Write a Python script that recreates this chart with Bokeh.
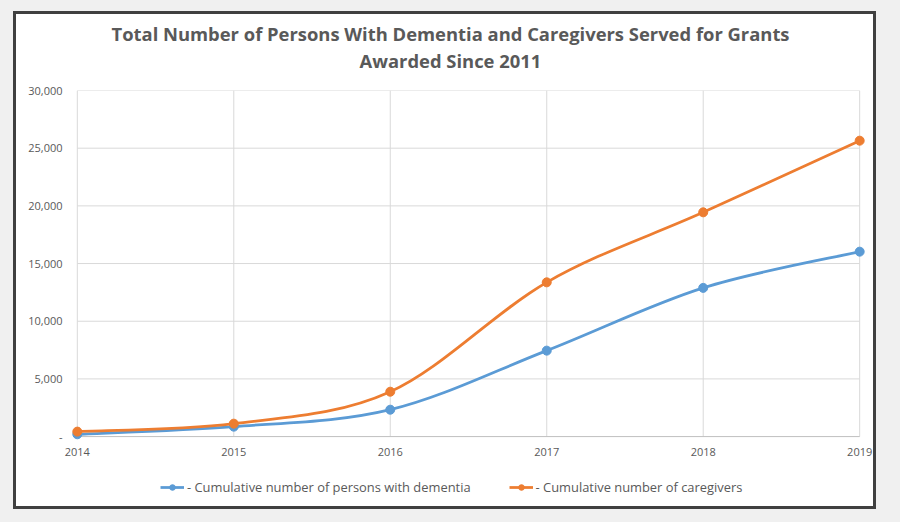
from bokeh.plotting import figure
from bokeh.layouts import column
from bokeh.models import (Range1d, FixedTicker, NumeralTickFormatter,
                          Legend, LegendItem, Title)
from bokeh.embed import file_html
from bokeh.resources import INLINE

years = [2014, 2015, 2016, 2017, 2018, 2019]
dementia = [200, 860, 2330, 7450, 12890, 16030]
caregivers = [430, 1120, 3890, 13370, 19440, 25650]
y_ticks = [0, 5000, 10000, 15000, 20000, 25000, 30000]
title_lines = ["Total Number of Persons With Dementia and Caregivers Served for Grants",
               "Awarded Since 2011"]
series_names = ["- Cumulative number of persons with dementia",
                "- Cumulative number of caregivers"]

BLUE = "#5b9bd5"
ORANGE = "#ed7d31"
GRID = "#d9d9d9"
TXT = "#595959"
FONT = "Open Sans"

W = 857
p = figure(width=W, height=452, output_backend="svg", toolbar_location=None,
           x_range=Range1d(2013.95, 2019.05), y_range=Range1d(-600, 30000),
           min_border_left=53, min_border_right=6, min_border_top=76, min_border_bottom=23)
p.border_fill_color = "white"
p.background_fill_color = "white"
p.outline_line_color = None
p.xgrid.visible = False
p.ygrid.visible = False

# gridlines drawn from tick values
p.segment(x0=[years[0]] * (len(y_ticks) - 1), y0=y_ticks[1:],
          x1=[years[-1]] * (len(y_ticks) - 1), y1=y_ticks[1:], line_color=GRID, line_width=1)
p.segment(x0=years, y0=[0] * len(years), x1=years, y1=[y_ticks[-1]] * len(years),
          line_color=GRID, line_width=1)
p.segment(x0=[years[0]], y0=[0], x1=[years[-1]], y1=[0], line_color="#bfbfbf", line_width=1)


def smooth_segments(xs, ys):
    n = len(xs)
    out = dict(x0=[], y0=[], x1=[], y1=[], cx0=[], cy0=[], cx1=[], cy1=[])
    for i in range(n - 1):
        xm, ym = (xs[i - 1], ys[i - 1]) if i > 0 else (xs[i], ys[i])
        xp, yp = (xs[i + 2], ys[i + 2]) if i + 2 < n else (xs[i + 1], ys[i + 1])
        out["x0"].append(xs[i]); out["y0"].append(ys[i])
        out["x1"].append(xs[i + 1]); out["y1"].append(ys[i + 1])
        out["cx0"].append(xs[i] + (xs[i + 1] - xm) / 6.0)
        out["cy0"].append(ys[i] + (ys[i + 1] - ym) / 6.0)
        out["cx1"].append(xs[i + 1] - (xp - xs[i]) / 6.0)
        out["cy1"].append(ys[i + 1] - (yp - ys[i]) / 6.0)
    return out


for vals, col in [(dementia, BLUE), (caregivers, ORANGE)]:
    p.bezier(line_color=col, line_width=2.75, **smooth_segments(years, vals))
    p.scatter(years, vals, size=9, fill_color=col, line_color=col)

# axes
p.xaxis.ticker = FixedTicker(ticks=years)
p.yaxis.ticker = FixedTicker(ticks=y_ticks)
p.yaxis.formatter = NumeralTickFormatter(format="0,0")
p.yaxis.major_label_overrides = {0: "-"}
for ax in (p.xaxis[0], p.yaxis[0]):
    ax.axis_line_color = None
    ax.major_tick_line_color = None
    ax.minor_tick_line_color = None
    ax.major_label_text_font = FONT
    ax.major_label_text_font_size = "11px"
    ax.major_label_text_color = TXT
    ax.major_tick_in = 0
    ax.major_tick_out = 0
p.yaxis.major_label_standoff = 7
p.xaxis.major_label_standoff = 4

# title: spacer above the frame, then the two centred lines
spacer = Title(text=" ", text_font_size="1px", standoff=14.5, text_color="white")
t2 = Title(text=title_lines[1], align="left", offset=290, text_font=FONT,
           text_font_size="18.4px", text_font_style="bold", text_color=TXT, standoff=0)
t1 = Title(text=title_lines[0], align="left", offset=42, text_font=FONT,
           text_font_size="18.4px", text_font_style="bold", text_color=TXT, standoff=0)
p.title = None
p.add_layout(spacer, "above")
p.add_layout(t2, "above")
p.add_layout(t1, "above")

# legend strip
leg = figure(width=W, height=40, output_backend="svg", toolbar_location=None,
             x_range=Range1d(0, 1), y_range=Range1d(0, 1), x_axis_type=None, y_axis_type=None,
             min_border=0)
leg.border_fill_color = "white"
leg.background_fill_color = "white"
leg.outline_line_color = None
leg.xgrid.visible = False
leg.ygrid.visible = False
items = []
for col, name in [(BLUE, series_names[0]), (ORANGE, series_names[1])]:
    rl = leg.line(x=[-5, -4], y=[-5, -4], line_color=col, line_width=2.75)
    rs = leg.scatter(x=[-5], y=[-5], size=8, fill_color=col, line_color=col)
    items.append(LegendItem(label=name, renderers=[rl, rs]))
legend = Legend(items=items, orientation="horizontal", location=(91, 10),
                label_text_font=FONT, label_text_font_size="12.9px", label_text_color=TXT,
                glyph_width=24, glyph_height=14, label_standoff=3, spacing=38,
                border_line_color=None, background_fill_alpha=0, padding=0, margin=0)
leg.add_layout(legend)

layout = column(p, leg, spacing=0)
layout.margin = (14, 0, 0, 16)
layout.styles = {"box-shadow": "0 0 0 3px #404040, 0 0 0 80px #f0f0f0",
                 "background-color": "white"}

open("out.html", "w").write(file_html(layout, INLINE))
